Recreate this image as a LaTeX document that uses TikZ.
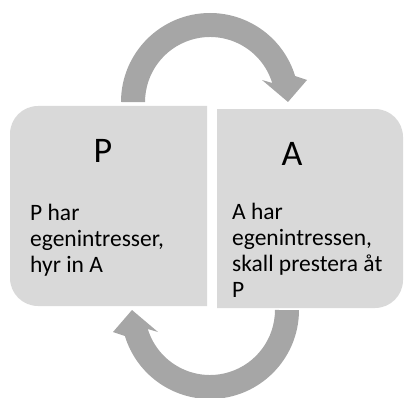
\documentclass[tikz,border=0pt]{standalone}
\usepackage{fontspec}
\setmainfont{Carlito}
\begin{document}
\begin{tikzpicture}[x=1pt,y=1pt,
  boxfill/.style={fill=black!15},
  arrowfill/.style={fill=black!35},
  title/.style={anchor=base,inner sep=0pt,font=\fontsize{36}{40}\selectfont},
  body/.style={anchor=base west,inner sep=0pt,align=left,font=\fontsize{23.5}{26}\selectfont}]
\useasboundingbox (0,0) rectangle (409,397);

% curved arrow over the top, from P to A
\def\cyclearrow{%
  (121,295) arc (180:17:89) -- (307,317) -- (288,295) -- (262,317)
  -- (272.2,314.0) arc (17:180:65) -- cycle}
\fill[arrowfill] \cyclearrow;
% the same arrow turned round underneath, from A back to P
\fill[arrowfill,rotate around={180:(210,191)}] \cyclearrow;

% two panels, rounded on their outer corners only
\fill[boxfill] (207,91) -- (38,91) arc (270:180:28) -- (10,263)
  arc (180:90:28) -- (207,291) -- cycle;
\fill[boxfill] (217,89) -- (375,89) arc (-90:0:28) -- (403,260)
  arc (0:90:28) -- (217,288) -- cycle;

% titles; the paragraphs are placed by the baseline of their last line
\node[title] (ptitle) at (103,235) {P};
\node[title] (atitle) at (292,232) {A};
\node[body] (ptext) at (30,125) {P har\\egenintresser,\\hyr in A};
\node[body] (atext) at (232,100) {A har\\egenintressen,\\skall prestera åt\\P};
\end{tikzpicture}
\end{document}
